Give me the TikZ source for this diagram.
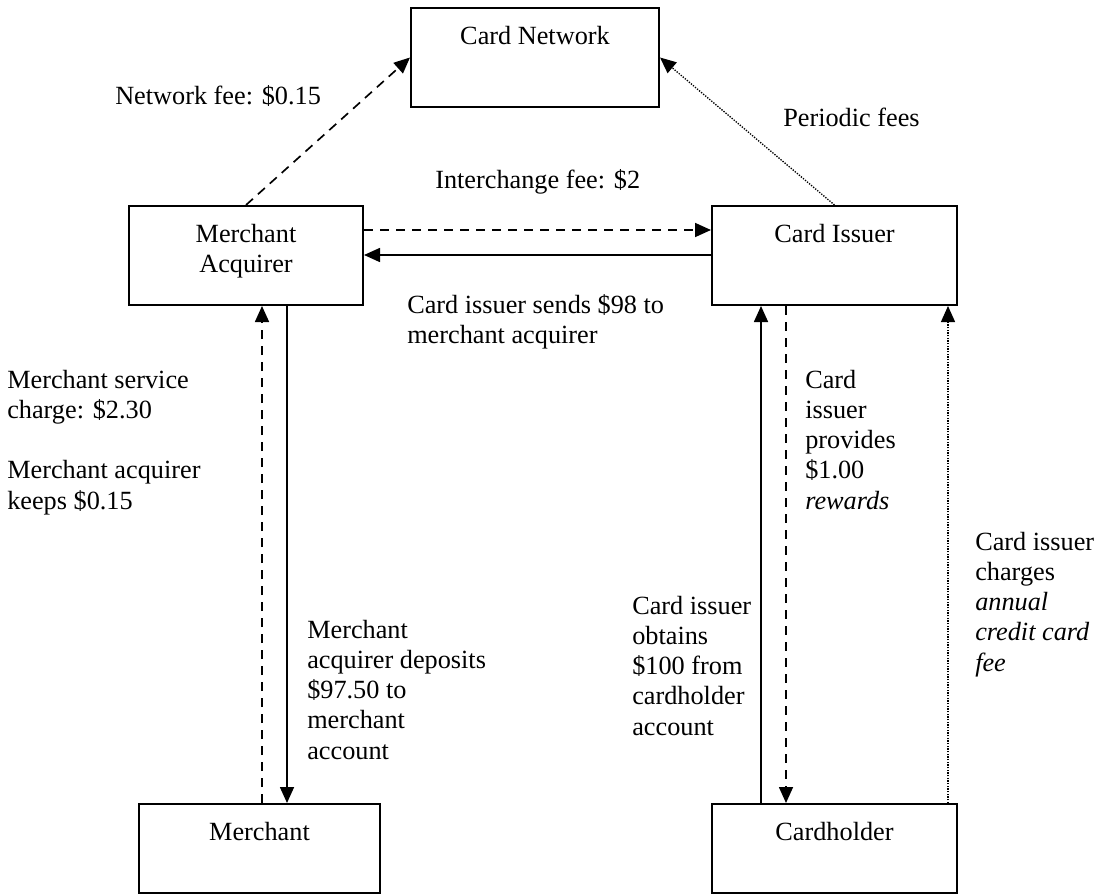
\documentclass[tikz,border=0pt]{standalone}
\usepackage{fontspec}
\setmainfont{Liberation Serif}
\usetikzlibrary{arrows.meta}
\newcommand{\mylines}[1]{\parbox[t]{230pt}{\raggedright #1}}
\newcommand{\boxlines}[2]{\parbox[t]{#1}{\centering #2}}
\begin{document}
\begin{tikzpicture}[x=0.75pt,y=-0.75pt,
  font=\fontsize{19.7pt}{22.7pt}\selectfont,
  entity/.style={draw, line width=1.5pt, rectangle, inner sep=0pt, anchor=north west, text height=27.5pt},
  tallbox/.style={entity, text depth=46.75pt},
  lowbox/.style={entity, text depth=39.25pt},
  lab/.style={anchor=base west, inner sep=0pt},
  flow/.style={line width=1.25pt, -{Triangle[length=12pt,width=10.5pt]}},
  dashflow/.style={flow, dash pattern=on 7pt off 5pt},
  dotflow/.style={flow, line width=1pt, dash pattern=on 1pt off 1pt}]
\useasboundingbox[fill=white] (0,0) rectangle (1102,895);

% entities
\node[tallbox, minimum width=186pt] (CN) at (410,7) {Card Network};
\node[tallbox, minimum width=175.5pt] (MA) at (128,205) {\boxlines{175.5pt}{Merchant\\Acquirer}};
\node[tallbox, minimum width=183.75pt] (CI) at (711,205) {Card Issuer};
\node[lowbox, minimum width=180.75pt] (M) at (138,803) {Merchant};
\node[lowbox, minimum width=183.75pt] (CH) at (711,803) {Cardholder};

% helper coordinates
\coordinate (y230) at (0,230);
\coordinate (y255) at (0,255);
\coordinate (x262) at (262,0);
\coordinate (x287) at (287,0);
\coordinate (x761) at (761,0);
\coordinate (x786) at (786,0);
\coordinate (x948) at (948,0);

% connectors
\draw[dashflow] (MA.north) -- (CN.west);
\draw[dotflow] (CI.north) -- (CN.east);
\draw[dashflow] (MA.east |- y230) -- (CI.west |- y230);
\draw[flow] (CI.west |- y255) -- (MA.east |- y255);
\draw[dashflow] (M.north -| x262) -- (MA.south -| x262);
\draw[flow] (MA.south -| x287) -- (M.north -| x287);
\draw[flow] (CH.north -| x761) -- (CI.south -| x761);
\draw[dashflow] (CI.south -| x786) -- (CH.north -| x786);
\draw[dotflow] (CH.north -| x948) -- (CI.south -| x948);

% labels
\node[lab] (nf) at (115,105) {Network fee: \$0.15};
\node[lab] (pf) at (783,127) {Periodic fees};
\node[lab] (icf) at (435,189) {Interchange fee: \$2};
\node[lab] (send) at (407,313) {\mylines{Card issuer sends \$98 to\\merchant acquirer}};
\node[lab] (msc) at (7,388) {\mylines{Merchant service\\charge: \$2.30\\[22.7pt]Merchant acquirer\\keeps \$0.15}};
\node[lab] (dep) at (307,638) {\mylines{Merchant\\acquirer deposits\\\$97.50 to\\merchant\\account}};
\node[lab] (rew) at (805,388) {\mylines{Card\\issuer\\provides\\\$1.00\\\textit{rewards}}};
\node[lab] (obt) at (632,614) {\mylines{Card issuer\\obtains\\\$100 from\\cardholder\\account}};
\node[lab] (ann) at (975,550) {\mylines{Card issuer\\charges\\\textit{annual}\\\textit{credit card}\\\textit{fee}}};
\end{tikzpicture}
\end{document}
